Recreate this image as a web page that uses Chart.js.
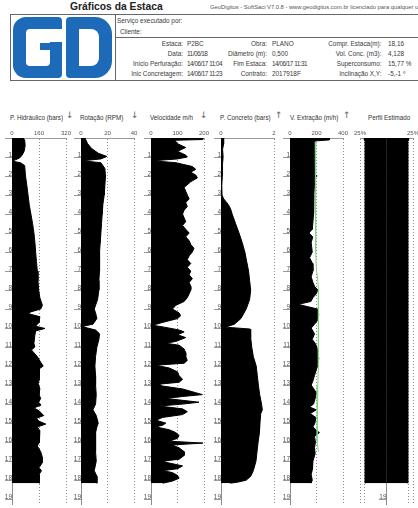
<!DOCTYPE html>
<html><head><meta charset="utf-8">
<script src="https://cdn.jsdelivr.net/npm/chart.js@4.4.1/dist/chart.umd.min.js"></script>
<style>
html,body{margin:0;padding:0;background:#fff;}
body{width:418px;height:508px;position:relative;overflow:hidden;font-family:'Liberation Sans',Arial,sans-serif;}
.t{position:absolute;white-space:nowrap;line-height:1;color:#3a3a3a;font-size:6.4px;}
.d{letter-spacing:-0.5px;}
.ln{position:absolute;background:#666;}
.bl{position:absolute;background:#1d6bb8;}
.wh{position:absolute;background:#fff;}
.pt{position:absolute;white-space:nowrap;line-height:1;color:#333;font-size:6.3px;top:114.6px;}
.ar{position:absolute;line-height:1;color:#666;font-family:'DejaVu Sans',sans-serif;font-size:9px;top:111px;}
canvas{position:absolute;}
</style></head><body>
<div class="t" style="left:70px;top:2.3px;font-weight:bold;font-size:10.3px;color:#222">Gráficos da Estaca</div>
<div class="t" style="left:210px;top:4.6px;font-size:5.8px;color:#555">GeoDigitus - SoftSaci V7.0.8 - www.geodigitus.com.br licenciado para qualquer usuário</div>

<div class="ln" style="left:10px;top:14px;width:408px;height:1px"></div>
<div class="ln" style="left:10px;top:80px;width:408px;height:1px"></div>
<div class="ln" style="left:10px;top:14px;width:1px;height:67px"></div>
<div class="ln" style="left:115px;top:14px;width:1px;height:67px"></div>
<div class="ln" style="left:115px;top:37px;width:303px;height:1px"></div>

<!-- logo -->
<div class="bl" style="left:13px;top:17px;width:49px;height:61px;border-radius:13px 4px 4px 13px"></div>
<div class="wh" style="left:26px;top:29px;width:24px;height:37px;border-radius:4px"></div>
<div class="wh" style="left:45px;top:29px;width:18px;height:13px"></div>
<div class="bl" style="left:40px;top:43px;width:12px;height:7px"></div>
<div class="bl" style="left:66px;top:17px;width:46px;height:61px;border-radius:4px 17px 17px 4px"></div>
<div class="wh" style="left:79px;top:29px;width:20px;height:37px;border-radius:0 8px 8px 0"></div>

<div class="t" style="left:117px;top:17.9px">Serviço executado por:</div>
<div class="t" style="left:120px;top:29.4px">Cliente:</div>

<div class="t" style="right:235px;top:41px">Estaca:</div>
<div class="t" style="left:187px;top:41px">P2BC</div>
<div class="t" style="right:235px;top:51px">Data:</div>
<div class="t d" style="left:187px;top:51px">11/06/18</div>
<div class="t" style="right:235px;top:61px">Início Perfuração:</div>
<div class="t d" style="left:187px;top:61px">14/06/17 11:04</div>
<div class="t" style="right:235px;top:71px">Inic Concretagem:</div>
<div class="t d" style="left:187px;top:71px">14/06/17 11:23</div>

<div class="t" style="right:151px;top:41px">Obra:</div>
<div class="t" style="left:272px;top:41px">PLANO</div>
<div class="t" style="right:151px;top:51px">Diâmetro (m):</div>
<div class="t" style="left:272px;top:51px">0,500</div>
<div class="t" style="right:151px;top:61px">Fim Estaca:</div>
<div class="t d" style="left:272px;top:61px">14/06/17 11:31</div>
<div class="t" style="right:151px;top:71px">Contrato:</div>
<div class="t" style="left:272px;top:71px">2017918F</div>

<div class="t" style="right:36.5px;top:41px">Compr. Estaca(m):</div>
<div class="t" style="left:388px;top:41px">18,16</div>
<div class="t" style="right:36.5px;top:51px">Vol. Conc. (m3):</div>
<div class="t" style="left:388px;top:51px">4,128</div>
<div class="t" style="right:36.5px;top:61px">Superconsumo:</div>
<div class="t" style="left:388px;top:61px">15,77 %</div>
<div class="t" style="right:36.5px;top:71px">Inclinação X,Y:</div>
<div class="t" style="left:388px;top:71px">-5,-1 º</div>

<div class="pt" style="left:10px">P. Hidráulico (bars)</div><div class="ar" style="left:66px">↓</div>
<div class="pt" style="left:80px">Rotação (RPM)</div><div class="ar" style="left:131px">↓</div>
<div class="pt" style="left:150px">Velocidade m/h</div><div class="ar" style="left:200px">↓</div>
<div class="pt" style="left:220px">P. Concreto (bars)</div><div class="ar" style="left:275px">↑</div>
<div class="pt" style="left:290px">V. Extração (m/h)</div><div class="ar" style="left:343px">↑</div>
<div class="pt" style="left:368px">Perfil Estimado</div>

<canvas id="c1"></canvas><canvas id="c2"></canvas><canvas id="c3"></canvas>
<canvas id="c4"></canvas><canvas id="c5"></canvas><canvas id="c6"></canvas>
<script>
// ---- data ----
const depthTicks = [0,1,2,3,4,5,6,7,8,9,10,11,12,13,14,15,16,17,18,19];

const hidTicks = [0,160,320];
const depthHid = [0,0.1,0.4,0.7,0.9,1.05,1.15,1.22,1.3,1.45,2.0,2.5,3.0,3.5,4.0,4.5,5.0,5.5,6.0,6.5,7.0,7.5,8.0,8.4,8.8,9.0,9.15,9.25,9.4,9.7,9.9,10.02,10.15,10.4,10.8,11.0,11.15,11.3,11.5,11.8,12.0,12.15,12.4,12.7,12.9,13.2,13.5,13.7,13.9,14.05,14.2,14.35,14.6,14.75,14.9,15.05,15.2,15.4,15.7,16.0,16.2,16.5,16.8,17.1,17.35,17.5,17.7,17.9,18.16];
const valHid = [65,75,78,72,60,45,20,3,50,75,80,88,95,102,112,122,130,136,140,145,150,154,158,165,180,170,110,100,165,160,140,195,140,135,130,135,115,130,150,170,185,160,160,165,155,165,160,170,158,172,130,160,188,145,160,200,150,165,160,165,150,170,180,178,160,175,160,165,160];

const rotTicks = [0,20,40];
const depthRot = [0,0.3,0.55,0.8,0.97,1.1,1.2,1.3,1.6,2.0,2.5,3.0,3.5,4.0,4.5,5.0,5.5,6.0,6.5,7.0,7.5,8.0,8.5,9.0,9.2,9.5,9.8,9.9,10.0,10.1,10.3,10.6,11.0,11.5,12.0,12.5,13.0,13.5,14.0,14.3,14.6,15.0,15.2,15.5,16.0,16.5,17.0,17.5,17.8,18.16];
const valRot = [3,5,8,13,19.5,15,1,15,18,18.5,18,17.5,16.5,16,15.5,15,14.5,14,14,14,13.5,13.5,12.5,10,11,12,9,1,5,11,14,13.5,12,11,10.5,11,11,11.5,11,9,11.5,13,12,11,11,11,11.5,10,12,12];

const velTicks = [0,100,200];
const depthVel = [0,0.08,0.12,0.3,0.5,0.7,0.9,1.0,1.1,1.2,1.3,1.5,1.65,1.8,1.95,2.1,2.3,2.6,2.8,3.0,3.2,3.4,3.6,3.8,4.0,4.2,4.4,4.6,4.8,5.0,5.2,5.4,5.6,5.8,6.0,6.2,6.4,6.6,6.8,7.0,7.2,7.4,7.6,7.8,8.0,8.2,8.4,8.6,8.8,9.0,9.2,9.35,9.5,9.7,9.85,9.95,10.1,10.2,10.35,10.5,10.7,10.8,10.9,11.1,11.3,11.5,11.7,11.85,11.95,12.1,12.3,12.5,12.7,12.85,12.95,13.05,13.2,13.4,13.5,13.6,13.7,13.8,13.9,14.0,14.1,14.25,14.4,14.55,14.7,14.85,15.0,15.1,15.2,15.35,15.5,15.65,15.8,15.95,16.05,16.15,16.3,16.5,16.7,16.9,17.0,17.1,17.25,17.4,17.5,17.6,17.75,17.9,18.05,18.16];
const valVel = [195,195,90,100,131,100,131,137,100,6,94,156,169,150,169,175,150,125,131,137,144,131,137,125,119,125,131,119,131,144,131,144,150,162,156,144,137,150,137,150,144,156,144,150,150,144,137,125,94,81,106,112,100,44,6,50,106,125,100,131,94,56,106,125,131,131,137,125,19,69,100,106,119,106,31,44,119,169,194,119,56,119,181,119,31,119,137,119,44,19,56,45,19,69,94,106,100,69,196,80,106,125,125,106,44,69,119,100,44,80,100,106,81,44];

const concTicks = [0,2];
const depthConc = [0,0.3,0.6,1.0,1.5,2.0,2.5,3.0,3.2,3.4,3.6,3.8,4.0,4.5,5.0,5.5,6.0,6.5,7.0,7.5,8.0,8.5,9.0,9.5,9.8,9.95,10.05,10.15,10.5,11.0,11.5,12.0,12.5,13.0,13.5,14.0,14.3,14.5,15.0,15.5,16.0,16.5,17.0,17.5,17.8,18.0,18.1,18.16];
const valConc = [0.08,0.1,0.06,0.08,0.05,0.05,0.03,0.04,0.1,0.22,0.32,0.38,0.42,0.55,0.68,0.8,0.9,0.97,1.04,1.08,1.12,1.08,0.95,0.75,0.5,0.16,1.1,1.12,1.12,1.16,1.22,1.33,1.37,1.41,1.46,1.53,1.56,1.5,1.47,1.45,1.4,1.36,1.32,1.22,1.12,0.95,0.65,0.35];

const extTicks = [0,200,400];
const depthExt = [0,0.1,0.15,0.25,1.0,1.9,2.0,2.1,3.0,4.0,4.5,4.8,5.0,5.2,5.5,6.0,6.3,6.6,7.0,7.3,7.6,7.8,8.0,8.2,8.4,8.6,8.75,8.85,9.0,9.3,9.6,9.8,10.0,10.3,10.6,10.8,11.0,11.3,11.6,12.0,12.2,12.5,12.8,13.0,13.2,13.4,13.7,14.0,14.15,14.3,14.5,14.7,15.0,15.2,15.35,15.5,15.7,16.0,16.3,16.6,17.0,17.4,17.7,18.0,18.16];
const valExt = [300,296,200,185,185,188,205,188,180,178,172,168,143,172,160,168,148,170,173,160,173,185,210,198,173,158,62,120,210,217,208,185,160,185,168,190,203,210,217,208,198,185,172,160,180,198,190,178,148,198,153,195,188,173,195,222,185,192,185,190,173,170,160,168,160];
const depthExtRef = [0.2,2,4,5,6,7,7.5,8,9,10,11,12,13,14,15,16,16.5];
const valExtRef = [190,195,195,190,195,200,210,215,215,212,215,215,210,205,205,205,215];

const perfilTicks = [-0.3,-0.25,0,0.25,0.3];
const perfilTickLabels = ['25%','','','','25%'];
const depthPerfil = [0,0.12,0.18,6,12,18.16];
const radiusPerfil = [0.25,0.25,0.24,0.24,0.24,0.24];

// ---- helpers ----
Chart.defaults.font.family = "'Liberation Sans', Arial, sans-serif";
const GRID = '#8c8c8c';
function pts(ds, vs, sign){ return ds.map((d,i)=>({x:(sign||1)*vs[i], y:d})); }
function fillSet(ds, vs, sign){
  return {data:pts(ds,vs,sign), fill:'origin', backgroundColor:'#000', borderColor:'#000',
          borderWidth:1, pointRadius:0, pointHoverRadius:0, tension:0, order:1};
}
function makeChart(id, areaL, areaR, xmin, xmax, xticks, xlabels, datasets){
  const cv = document.getElementById(id);
  const L = Math.floor(areaL) - 13;
  const W = Math.ceil(areaR + 9) - L;
  cv.width = W; cv.height = 382;
  cv.style.left = L + 'px'; cv.style.top = '126px';
  return new Chart(cv, {
    type:'line',
    data:{datasets},
    options:{
      indexAxis:'y', animation:false, responsive:false, maintainAspectRatio:false, events:[],
      layout:{padding:{left:areaL - L, right:W - (areaR - L), top:0, bottom:0}},
      plugins:{legend:{display:false}, tooltip:{enabled:false}},
      scales:{
        x:{type:'linear', position:'top', min:xmin, max:xmax,
           afterBuildTicks:s=>{ s.ticks = xticks.map(v=>({value:v})); },
           afterFit:s=>{ s.height = 12; s.paddingLeft = 0; s.paddingRight = 0; },
           ticks:{autoSkip:false, maxRotation:0, minRotation:0, padding:1, color:'#555',
                  font:{size:6}, callback:(v,i)=> xlabels ? xlabels[i] : String(v)},
           grid:{drawTicks:false, lineWidth:1, color:c=> (c.tick && c.tick.value===0) ? 'rgba(0,0,0,0)' : GRID},
           border:{display:true, color:'#999', width:1, dash:[1,2]}},
        y:{type:'linear', position:{x:0}, reverse:true, min:0, max:19.26,
           afterBuildTicks:s=>{ s.ticks = depthTicks.map(v=>({value:v})); },
           ticks:{autoSkip:false, color:'#555', font:{size:6.5}, labelOffset:-2, padding:0,
                  callback:v=> v===0 ? '' : String(v)},
           grid:{drawOnChartArea:false, drawTicks:true, tickLength:7, color:'#999', lineWidth:1},
           border:{display:true, color:'#8c8c8c', width:1}}
      }
    }
  });
}

makeChart('c1', 12, 66, 0, 320, hidTicks, null, [fillSet(depthHid, valHid)]);
makeChart('c2', 81, 134, 0, 40, rotTicks, null, [fillSet(depthRot, valRot)]);
makeChart('c3', 151, 204, 0, 200, velTicks, null, [fillSet(depthVel, valVel)]);
makeChart('c4', 221, 274, 0, 2, concTicks, null, [fillSet(depthConc, valConc)]);
makeChart('c5', 290, 343, 0, 400, extTicks, null, [
  {data:pts(depthExtRef, valExtRef), fill:false, borderColor:'#86d486', borderWidth:1, pointRadius:0, tension:0, order:0},
  fillSet(depthExt, valExt)
]);
makeChart('c6', 360, 413, -0.3, 0.3, perfilTicks, perfilTickLabels, [
  fillSet(depthPerfil, radiusPerfil, 1),
  fillSet(depthPerfil, radiusPerfil, -1)
]);
</script>
</body></html>
